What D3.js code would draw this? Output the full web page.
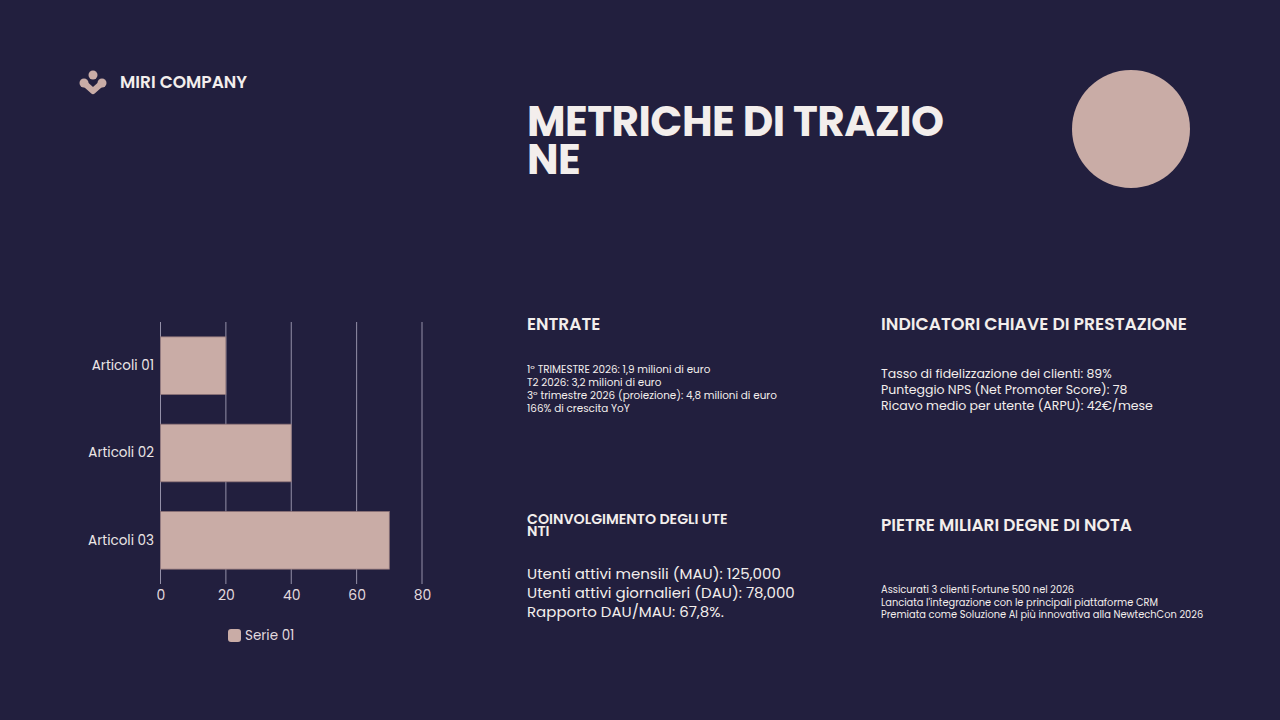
<!DOCTYPE html>
<html>
<head>
<meta charset="utf-8">
<script src="https://cdn.jsdelivr.net/npm/d3@7"></script>
<style>
  html, body { margin: 0; padding: 0; background: #221f3e; }
  svg { display: block; font-family: "Poppins", "Inter", "Noto Sans", sans-serif; }
</style>
</head>
<body>
<div id="slide"></div>
<script>
// chart data
var categories = ["Articoli 01", "Articoli 02", "Articoli 03"];
var serieValues = [20, 40, 70];
var seriesName = "Serie 01";
var xTicks = [0, 20, 40, 60, 80];

// slide texts
var titleLines = ["METRICHE DI TRAZIO", "NE"];
var entrateLines = [
  "1º TRIMESTRE 2026: 1,9 milioni di euro",
  "T2 2026: 3,2 milioni di euro",
  "3º trimestre 2026 (proiezione): 4,8 milioni di euro",
  "166% di crescita YoY"
];
var kpiLines = [
  "Tasso di fidelizzazione dei clienti: 89%",
  "Punteggio NPS (Net Promoter Score): 78",
  "Ricavo medio per utente (ARPU): 42€/mese"
];
var utentiLines = [
  "Utenti attivi mensili (MAU): 125,000",
  "Utenti attivi giornalieri (DAU): 78,000",
  "Rapporto DAU/MAU: 67,8%."
];
var pietreLines = [
  "Assicurati 3 clienti Fortune 500 nel 2026",
  "Lanciata l'integrazione con le principali piattaforme CRM",
  "Premiata come Soluzione AI più innovativa alla NewtechCon 2026"
];

var svgWidth = 1280;
var svgHeight = 720;
var pink = "#c9aca6";
var light = "#f3eeec";

var svg = d3.select("#slide")
  .append("svg")
  .attr("width", svgWidth)
  .attr("height", svgHeight);

svg.append("rect")
  .attr("width", svgWidth)
  .attr("height", svgHeight)
  .attr("fill", "#221f3e");

// logo + company name
var logo = svg.append("g").attr("transform", "translate(93, 82)");
logo.append("path")
  .attr("d", "M-9,1 L0,9 L9,1")
  .attr("fill", "none")
  .attr("stroke", pink)
  .attr("stroke-width", 6)
  .attr("stroke-linejoin", "round")
  .attr("stroke-linecap", "round");
logo.append("circle").attr("cx", 0).attr("cy", -7).attr("r", 4.5).attr("fill", pink);
logo.append("circle").attr("cx", -9).attr("cy", 1).attr("r", 4.5).attr("fill", pink);
logo.append("circle").attr("cx", 9).attr("cy", 1).attr("r", 4.5).attr("fill", pink);

svg.append("text")
  .attr("x", 120)
  .attr("y", 88)
  .attr("fill", light)
  .attr("font-size", "17px")
  .attr("font-weight", 600)
  .text("MIRI COMPANY");

// title
svg.append("g")
  .selectAll("text")
  .data(titleLines)
  .enter()
  .append("text")
  .attr("x", 527)
  .attr("y", (d, i) => 136 + i * 38)
  .attr("fill", light)
  .attr("font-size", "42px")
  .attr("font-weight", 700)
  .attr("letter-spacing", "-0.5px")
  .text(d => d);

svg.append("circle")
  .attr("cx", 1131)
  .attr("cy", 129)
  .attr("r", 59)
  .attr("fill", pink);

// text blocks
function heading(x, y, txt, size) {
  svg.append("text")
    .attr("x", x)
    .attr("y", y)
    .attr("fill", light)
    .attr("font-size", size)
    .attr("font-weight", 600)
    .text(txt);
}
function block(lines, x, y, size, step) {
  svg.append("g")
    .selectAll("text")
    .data(lines)
    .enter()
    .append("text")
    .attr("x", x)
    .attr("y", (d, i) => y + i * step)
    .attr("fill", light)
    .attr("font-size", size)
    .text(d => d);
}

heading(527, 330, "ENTRATE", "17px");
block(entrateLines, 527, 373, "10.4px", 13);

heading(881, 330, "INDICATORI CHIAVE DI PRESTAZIONE", "17.2px");
block(kpiLines, 881, 378, "12.5px", 16);

heading(527, 524, "COINVOLGIMENTO DEGLI UTE", "14.2px");
heading(527, 536, "NTI", "14.2px");
block(utentiLines, 527, 579, "15px", 19);

heading(881, 531, "PIETRE MILIARI DEGNE DI NOTA", "17px");
block(pietreLines, 881, 593, "9.85px", 12.5);

// bar chart
var margin = { top: 322, left: 160 };
var width = 262;
var height = 262;

var chartGroup = svg.append("g")
  .attr("transform", `translate(${margin.left}, ${margin.top})`);

var xLinearScale = d3.scaleLinear()
  .domain([0, 80])
  .range([0.5, width]);

var yBandScale = d3.scaleBand()
  .domain(categories)
  .range([0, height])
  .paddingInner(0.34)
  .paddingOuter(0.17);

// gridlines
chartGroup.append("g")
  .attr("class", "grid")
  .selectAll("line")
  .data(xTicks)
  .enter()
  .append("line")
  .attr("x1", d => xLinearScale(d))
  .attr("x2", d => xLinearScale(d))
  .attr("y1", 0)
  .attr("y2", height)
  .attr("stroke", "#9490a8")
  .attr("stroke-width", 1);

chartGroup.append("g")
  .selectAll("rect")
  .data(serieValues)
  .enter()
  .append("rect")
  .attr("x", xLinearScale(0))
  .attr("y", (d, i) => yBandScale(categories[i]))
  .attr("width", d => xLinearScale(d) - xLinearScale(0))
  .attr("height", yBandScale.bandwidth())
  .attr("fill", pink)
  .attr("stroke", "#8c7277")
  .attr("stroke-width", 0.8);

var bottomAxis = d3.axisBottom(xLinearScale)
  .tickValues(xTicks)
  .tickSize(0)
  .tickPadding(6);
var leftAxis = d3.axisLeft(yBandScale)
  .tickSize(0)
  .tickPadding(6);

var bx = chartGroup.append("g")
  .attr("transform", `translate(0, ${height})`)
  .call(bottomAxis);
bx.select(".domain").remove();
bx.selectAll("text")
  .attr("fill", "#e2dade")
  .attr("font-size", "14px")
  .attr("font-family", "\"Poppins\", \"Inter\", sans-serif");

var ly = chartGroup.append("g").call(leftAxis);
ly.select(".domain").remove();
ly.selectAll("text")
  .attr("fill", "#ece6e6")
  .attr("font-size", "13.5px")
  .attr("font-family", "\"Poppins\", \"Inter\", sans-serif");

// legend
var legend = svg.append("g").attr("transform", "translate(228, 629)");
legend.append("rect")
  .attr("width", 13)
  .attr("height", 13)
  .attr("rx", 3)
  .attr("fill", pink);
legend.append("text")
  .attr("x", 17)
  .attr("y", 11)
  .attr("fill", "#e2dade")
  .attr("font-size", "13.5px")
  .text(seriesName);
</script>
</body>
</html>
